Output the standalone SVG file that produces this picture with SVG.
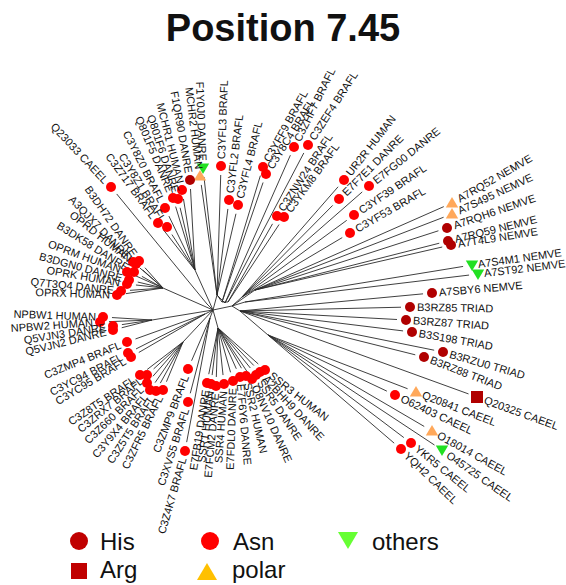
<svg xmlns="http://www.w3.org/2000/svg" xmlns:xlink="http://www.w3.org/1999/xlink" width="566" height="585" viewBox="0 0 566 585">
<style>
.l{stroke:#2a2a2a;stroke-width:0.9;fill:none}
.t{stroke-dasharray:0 9 2000}
text{font-family:"Liberation Sans",Arial,sans-serif;fill:#111}
.s{font-size:11px;text-anchor:start}
.e{font-size:11px;text-anchor:end}
.R{fill:#ff0000}
.D{fill:#b00000}
.P{fill:#ffa85a}
.G{fill:#22e022}
.lg{font-size:24px}
</style>
<defs>
<path id="tu" d="M0,-6 L6.2,4.5 L-6.2,4.5Z"/>
<path id="td" d="M-6.2,-4.5 L6.2,-4.5 L0,6Z"/>
<rect id="sq" x="-6" y="-6" width="12" height="12"/>
</defs>
<rect width="566" height="585" fill="#fff"/>
<text x="283" y="41" font-size="38" font-weight="bold" text-anchor="middle">Position 7.45</text>
<g id="connectors">
<path class="l" d="M213,310L232,306M232,306L255,290M232,306L242,297M213,310L195,270M213,310L217,295M213,310L163,288M213,310L152,320M213,310L183,342M213,310L218,328M232,306L240,311M240,311L268,335M232,306L245,302M213,310L207,304M213,310L205,314M213,310L210,318M217,295L222,302M217,295L225,303M222,302L228,302"/>
<g class="l t">
<line x1="452" y1="203" x2="255" y2="290"/>
<line x1="452" y1="214" x2="255" y2="290"/>
<line x1="447" y1="228" x2="255" y2="290"/>
<line x1="448" y1="241" x2="255" y2="290"/>
<line x1="451" y1="245" x2="255" y2="290"/>
<line x1="472" y1="265" x2="245" y2="302"/>
<line x1="478" y1="274" x2="245" y2="302"/>
<line x1="432" y1="293" x2="240" y2="311"/>
<line x1="410" y1="307" x2="240" y2="311"/>
<line x1="406" y1="320" x2="240" y2="311"/>
<line x1="412" y1="332" x2="240" y2="311"/>
<line x1="443" y1="352" x2="240" y2="311"/>
<line x1="424" y1="357" x2="240" y2="311"/>
<line x1="477" y1="397" x2="240" y2="311"/>
<line x1="416" y1="392" x2="268" y2="335"/>
<line x1="395" y1="395" x2="268" y2="335"/>
<line x1="432" y1="431" x2="268" y2="335"/>
<line x1="442" y1="450" x2="268" y2="335"/>
<line x1="411" y1="443" x2="268" y2="335"/>
<line x1="401" y1="449" x2="268" y2="335"/>
<line x1="344" y1="180" x2="242" y2="297"/>
<line x1="339" y1="199" x2="242" y2="297"/>
<line x1="369" y1="186" x2="242" y2="297"/>
<line x1="354" y1="215" x2="242" y2="297"/>
<line x1="350" y1="233" x2="242" y2="297"/>
<line x1="277" y1="216" x2="228" y2="302"/>
<line x1="284" y1="217" x2="228" y2="302"/>
<line x1="308" y1="145" x2="225" y2="303"/>
<line x1="294" y1="147" x2="225" y2="303"/>
<line x1="263" y1="167" x2="222" y2="302"/>
<line x1="266" y1="174" x2="222" y2="302"/>
<line x1="238" y1="205" x2="217" y2="295"/>
<line x1="229" y1="200" x2="217" y2="295"/>
<line x1="221" y1="166" x2="217" y2="295"/>
<line x1="203" y1="168" x2="217" y2="295"/>
<line x1="200" y1="176" x2="217" y2="295"/>
<line x1="190" y1="180" x2="195" y2="270"/>
<line x1="182" y1="190" x2="195" y2="270"/>
<line x1="178" y1="199" x2="195" y2="270"/>
<line x1="173" y1="198" x2="195" y2="270"/>
<line x1="165" y1="208" x2="195" y2="270"/>
<line x1="167" y1="227" x2="195" y2="270"/>
<line x1="158" y1="223" x2="195" y2="270"/>
<line x1="111" y1="187" x2="207" y2="304"/>
<line x1="139" y1="261" x2="163" y2="288"/>
<line x1="133" y1="262" x2="163" y2="288"/>
<line x1="136" y1="264" x2="163" y2="288"/>
<line x1="134" y1="272" x2="163" y2="288"/>
<line x1="127" y1="272" x2="163" y2="288"/>
<line x1="129" y1="280" x2="163" y2="288"/>
<line x1="127" y1="284" x2="163" y2="288"/>
<line x1="121" y1="291" x2="163" y2="288"/>
<line x1="117" y1="295" x2="163" y2="288"/>
<line x1="103" y1="317" x2="152" y2="320"/>
<line x1="100" y1="322" x2="152" y2="320"/>
<line x1="113" y1="326" x2="152" y2="320"/>
<line x1="113" y1="330" x2="152" y2="320"/>
<line x1="127" y1="342" x2="205" y2="314"/>
<line x1="128" y1="353" x2="205" y2="314"/>
<line x1="131" y1="357" x2="205" y2="314"/>
<line x1="140" y1="375" x2="183" y2="342"/>
<line x1="147" y1="375" x2="183" y2="342"/>
<line x1="147" y1="383" x2="183" y2="342"/>
<line x1="150" y1="390" x2="183" y2="342"/>
<line x1="156" y1="391" x2="183" y2="342"/>
<line x1="163" y1="390" x2="183" y2="342"/>
<line x1="188" y1="369" x2="210" y2="318"/>
<line x1="188" y1="402" x2="210" y2="318"/>
<line x1="185" y1="451" x2="210" y2="318"/>
<line x1="207" y1="383" x2="218" y2="328"/>
<line x1="211" y1="384" x2="218" y2="328"/>
<line x1="216" y1="386" x2="218" y2="328"/>
<line x1="224" y1="384" x2="218" y2="328"/>
<line x1="233" y1="381" x2="218" y2="328"/>
<line x1="240" y1="377" x2="218" y2="328"/>
<line x1="246" y1="376" x2="218" y2="328"/>
<line x1="252" y1="379" x2="218" y2="328"/>
<line x1="256" y1="375" x2="218" y2="328"/>
<line x1="260" y1="372" x2="218" y2="328"/>
<line x1="265" y1="370" x2="218" y2="328"/>
</g>
</g>
<g id="A7RQ52"><use href="#tu" x="452" y="203" class="P"/><text class="s" transform="translate(452,203) rotate(-30)" x="7" dy="0.35em">A7RQ52 NEMVE</text></g>
<g id="A7S495"><use href="#tu" x="452" y="214" class="P"/><text class="s" transform="translate(452,214) rotate(-25)" x="7" dy="0.35em">A7S495 NEMVE</text></g>
<g id="A7RQH6"><circle cx="447" cy="228" r="5" class="D"/><text class="s" transform="translate(447,228) rotate(-19)" x="7" dy="0.35em">A7RQH6 NEMVE</text></g>
<g id="A7RQ59"><circle cx="448" cy="241" r="5" class="D"/><text class="s" transform="translate(448,241) rotate(-14)" x="7" dy="0.35em">A7RQ59 NEMVE</text></g>
<g id="A7T4L9"><circle cx="451" cy="245" r="5" class="D"/><text class="s" transform="translate(451,245) rotate(-9)" x="7" dy="0.35em">A7T4L9 NEMVE</text></g>
<g id="A7S4M1"><use href="#td" x="472" y="265" class="G"/><text class="s" transform="translate(472,265) rotate(-8)" x="6" dy="0.35em">A7S4M1 NEMVE</text></g>
<g id="A7ST92"><use href="#td" x="478" y="274" class="G"/><text class="s" transform="translate(478,274) rotate(-7)" x="6" dy="0.35em">A7ST92 NEMVE</text></g>
<g id="A7SBY6"><circle cx="432" cy="293" r="5" class="D"/><text class="s" transform="translate(432,293) rotate(-5)" x="7" dy="0.35em">A7SBY6 NEMVE</text></g>
<g id="B3RZ85"><circle cx="410" cy="307" r="5" class="D"/><text class="s" transform="translate(410,307) rotate(1)" x="7" dy="0.35em">B3RZ85 TRIAD</text></g>
<g id="B3RZ87"><circle cx="406" cy="320" r="5" class="D"/><text class="s" transform="translate(406,320) rotate(4)" x="7" dy="0.35em">B3RZ87 TRIAD</text></g>
<g id="B3S198"><circle cx="412" cy="332" r="5" class="D"/><text class="s" transform="translate(412,332) rotate(10)" x="7" dy="0.35em">B3S198 TRIAD</text></g>
<g id="B3RZU0"><circle cx="443" cy="352" r="5" class="D"/><text class="s" transform="translate(443,352) rotate(16)" x="7" dy="0.35em">B3RZU0 TRIAD</text></g>
<g id="B3RZ88"><circle cx="424" cy="357" r="5" class="D"/><text class="s" transform="translate(424,357) rotate(21)" x="7" dy="0.35em">B3RZ88 TRIAD</text></g>
<g id="Q20325"><use href="#sq" x="477" y="397" class="D"/><text class="s" transform="translate(477,397) rotate(20)" x="8" dy="0.35em">Q20325 CAEEL</text></g>
<g id="Q20841"><use href="#tu" x="416" y="392" class="P"/><text class="s" transform="translate(416,392) rotate(21)" x="7" dy="0.35em">Q20841 CAEEL</text></g>
<g id="O62403"><circle cx="395" cy="395" r="5" class="R"/><text class="s" transform="translate(395,395) rotate(25)" x="7" dy="0.35em">O62403 CAEEL</text></g>
<g id="O18014"><use href="#tu" x="432" y="431" class="P"/><text class="s" transform="translate(432,431) rotate(29)" x="7" dy="0.35em">O18014 CAEEL</text></g>
<g id="O45725"><use href="#td" x="442" y="450" class="G"/><text class="s" transform="translate(442,450) rotate(35)" x="7" dy="0.35em">O45725 CAEEL</text></g>
<g id="YKR5"><circle cx="411" cy="443" r="5" class="R"/><text class="s" transform="translate(411,443) rotate(39)" x="7" dy="0.35em">YKR5 CAEEL</text></g>
<g id="YQH2"><circle cx="401" cy="449" r="5" class="R"/><text class="s" transform="translate(401,449) rotate(44)" x="7" dy="0.35em">YQH2 CAEEL</text></g>
<g id="UR2R"><circle cx="344" cy="180" r="5" class="R"/><text class="s" transform="translate(344,180) rotate(-52)" x="7" dy="0.35em">UR2R HUMAN</text></g>
<g id="E7F7E1"><circle cx="339" cy="199" r="5" class="R"/><text class="s" transform="translate(339,199) rotate(-45)" x="7" dy="0.35em">E7F7E1 DANRE</text></g>
<g id="E7FG00"><circle cx="369" cy="186" r="5" class="R"/><text class="s" transform="translate(369,186) rotate(-39)" x="7" dy="0.35em">E7FG00 DANRE</text></g>
<g id="C3YF39"><circle cx="354" cy="215" r="5" class="R"/><text class="s" transform="translate(354,215) rotate(-34)" x="7" dy="0.35em">C3YF39 BRAFL</text></g>
<g id="C3YF53"><circle cx="350" cy="233" r="5" class="R"/><text class="s" transform="translate(350,233) rotate(-30)" x="7" dy="0.35em">C3YF53 BRAFL</text></g>
<g id="C3ZNW24"><circle cx="277" cy="216" r="5" class="R"/><text class="s" transform="translate(277,216) rotate(-57)" x="7" dy="0.35em">C3ZNW24 BRAFL</text></g>
<g id="C3YKM8"><circle cx="284" cy="217" r="5" class="R"/><text class="s" transform="translate(284,217) rotate(-54)" x="7" dy="0.35em">C3YKM8 BRAFL</text></g>
<g id="C3ZEF4"><circle cx="308" cy="145" r="5" class="R"/><text class="s" transform="translate(308,145) rotate(-57)" x="7" dy="0.35em">C3ZEF4 BRAFL</text></g>
<g id="C3ZHF7"><circle cx="294" cy="147" r="5" class="R"/><text class="s" transform="translate(294,147) rotate(-64)" x="7" dy="0.35em">C3ZHF7 BRAFL</text></g>
<g id="C3YFF9"><circle cx="263" cy="167" r="5" class="R"/><text class="s" transform="translate(263,167) rotate(-61)" x="7" dy="0.35em">C3YFF9 BRAFL</text></g>
<g id="C3Y8C4"><circle cx="266" cy="174" r="5" class="R"/><text class="s" transform="translate(266,174) rotate(-58)" x="7" dy="0.35em">C3Y8C4 BRAFL</text></g>
<g id="C3YFL4"><circle cx="238" cy="205" r="5" class="R"/><text class="s" transform="translate(238,205) rotate(-76)" x="7" dy="0.35em">C3YFL4 BRAFL</text></g>
<g id="C3YFL2"><circle cx="229" cy="200" r="5" class="R"/><text class="s" transform="translate(229,200) rotate(-83)" x="7" dy="0.35em">C3YFL2 BRAFL</text></g>
<g id="C3YFL3"><circle cx="221" cy="166" r="5" class="R"/><text class="s" transform="translate(221,166) rotate(-88)" x="7" dy="0.35em">C3YFL3 BRAFL</text></g>
<g id="F1Y0J0"><use href="#td" x="203" y="168" class="G"/><text class="e" transform="translate(203,168) rotate(88)" x="-7" dy="0.35em">F1Y0J0 DANRE</text></g>
<g id="MCHR2"><use href="#tu" x="200" y="176" class="P"/><text class="e" transform="translate(200,176) rotate(83)" x="-7" dy="0.35em">MCHR2 HUMAN</text></g>
<g id="F1QR90"><circle cx="190" cy="180" r="5" class="D"/><text class="e" transform="translate(190,180) rotate(80)" x="-7" dy="0.35em">F1QR90 DANRE</text></g>
<g id="MCHR1"><circle cx="182" cy="190" r="5" class="R"/><text class="e" transform="translate(182,190) rotate(76)" x="-7" dy="0.35em">MCHR1 HUMAN</text></g>
<g id="Q801F6"><circle cx="178" cy="199" r="5" class="R"/><text class="e" transform="translate(178,199) rotate(72)" x="-7" dy="0.35em">Q801F6 DANRE</text></g>
<g id="Q801F5"><circle cx="173" cy="198" r="5" class="R"/><text class="e" transform="translate(173,198) rotate(67)" x="-7" dy="0.35em">Q801F5 DANRE</text></g>
<g id="C3Y8Z0"><circle cx="165" cy="208" r="5" class="R"/><text class="e" transform="translate(165,208) rotate(63)" x="-7" dy="0.35em">C3Y8Z0 BRAFL</text></g>
<g id="C3Y8Z1"><circle cx="167" cy="227" r="5" class="R"/><text class="e" transform="translate(167,227) rotate(58)" x="-7" dy="0.35em">C3Y8Z1 BRAFL</text></g>
<g id="C3Z717"><circle cx="158" cy="223" r="5" class="R"/><text class="e" transform="translate(158,223) rotate(54)" x="-7" dy="0.35em">C3Z717 BRAFL</text></g>
<g id="Q23033"><circle cx="111" cy="187" r="5" class="R"/><text class="e" transform="translate(111,187) rotate(47)" x="-7" dy="0.35em">Q23033 CAEEL</text></g>
<g id="B3DH72"><circle cx="139" cy="261" r="5" class="R"/><text class="e" transform="translate(139,261) rotate(55)" x="-7" dy="0.35em">B3DH72 DANRE</text></g>
<g id="A3QJX7"><circle cx="133" cy="262" r="5" class="R"/><text class="e" transform="translate(133,262) rotate(46)" x="-7" dy="0.35em">A3QJX7 DANRE</text></g>
<g id="OPRD"><circle cx="136" cy="264" r="5" class="R"/><text class="e" transform="translate(136,264) rotate(38)" x="-7" dy="0.35em">OPRD HUMAN</text></g>
<g id="B3DK58"><circle cx="134" cy="272" r="5" class="R"/><text class="e" transform="translate(134,272) rotate(32)" x="-7" dy="0.35em">B3DK58 DANRE</text></g>
<g id="OPRM"><circle cx="127" cy="272" r="5" class="R"/><text class="e" transform="translate(127,272) rotate(20)" x="-7" dy="0.35em">OPRM HUMAN</text></g>
<g id="B3DGN0"><circle cx="129" cy="280" r="5" class="R"/><text class="e" transform="translate(129,280) rotate(15)" x="-7" dy="0.35em">B3DGN0 DANRE</text></g>
<g id="OPRK"><circle cx="127" cy="284" r="5" class="R"/><text class="e" transform="translate(127,284) rotate(10)" x="-7" dy="0.35em">OPRK HUMAN</text></g>
<g id="Q7T3Q4"><circle cx="121" cy="291" r="5" class="R"/><text class="e" transform="translate(121,291) rotate(6)" x="-7" dy="0.35em">Q7T3Q4 DANRE</text></g>
<g id="OPRX"><circle cx="117" cy="295" r="5" class="R"/><text class="e" transform="translate(117,295) rotate(2)" x="-7" dy="0.35em">OPRX HUMAN</text></g>
<g id="NPBW1"><circle cx="103" cy="317" r="5" class="R"/><text class="e" transform="translate(103,317) rotate(2)" x="-7" dy="0.35em">NPBW1 HUMAN</text></g>
<g id="NPBW2"><circle cx="100" cy="322" r="5" class="R"/><text class="e" transform="translate(100,322) rotate(-4)" x="-7" dy="0.35em">NPBW2 HUMAN</text></g>
<g id="Q5VJN3"><circle cx="113" cy="326" r="5" class="R"/><text class="e" transform="translate(113,326) rotate(-9)" x="-7" dy="0.35em">Q5VJN3 DANRE</text></g>
<g id="Q5VJN2"><circle cx="113" cy="330" r="5" class="R"/><text class="e" transform="translate(113,330) rotate(-14)" x="-7" dy="0.35em">Q5VJN2 DANRE</text></g>
<g id="C3ZMP4"><circle cx="127" cy="342" r="5" class="R"/><text class="e" transform="translate(127,342) rotate(-22)" x="-7" dy="0.35em">C3ZMP4 BRAFL</text></g>
<g id="C3YC94"><circle cx="128" cy="353" r="5" class="R"/><text class="e" transform="translate(128,353) rotate(-27)" x="-7" dy="0.35em">C3YC94 BRAFL</text></g>
<g id="C3YC95"><circle cx="131" cy="357" r="5" class="R"/><text class="e" transform="translate(131,357) rotate(-31)" x="-7" dy="0.35em">C3YC95 BRAFL</text></g>
<g id="C3Z8T5"><circle cx="140" cy="375" r="5" class="R"/><text class="e" transform="translate(140,375) rotate(-34)" x="-7" dy="0.35em">C3Z8T5 BRAFL</text></g>
<g id="C3ZRX7"><circle cx="147" cy="375" r="5" class="R"/><text class="e" transform="translate(147,375) rotate(-39)" x="-7" dy="0.35em">C3ZRX7 BRAFL</text></g>
<g id="C3Z660"><circle cx="147" cy="383" r="5" class="R"/><text class="e" transform="translate(147,383) rotate(-44)" x="-7" dy="0.35em">C3Z660 BRAFL</text></g>
<g id="C3Y9X4"><circle cx="150" cy="390" r="5" class="R"/><text class="e" transform="translate(150,390) rotate(-50)" x="-7" dy="0.35em">C3Y9X4 BRAFL</text></g>
<g id="C3Z5T5"><circle cx="156" cy="391" r="5" class="R"/><text class="e" transform="translate(156,391) rotate(-57)" x="-7" dy="0.35em">C3Z5T5 BRAFL</text></g>
<g id="C3ZFR5"><circle cx="163" cy="390" r="5" class="R"/><text class="e" transform="translate(163,390) rotate(-64)" x="-7" dy="0.35em">C3ZFR5 BRAFL</text></g>
<g id="C3ZMP9"><circle cx="188" cy="369" r="5" class="R"/><text class="e" transform="translate(188,369) rotate(-69)" x="-7" dy="0.35em">C3ZMP9 BRAFL</text></g>
<g id="C3XVS5"><circle cx="188" cy="402" r="5" class="R"/><text class="e" transform="translate(188,402) rotate(-72)" x="-7" dy="0.35em">C3XVS5 BRAFL</text></g>
<g id="C3Z4K7"><circle cx="185" cy="451" r="5" class="R"/><text class="e" transform="translate(185,451) rotate(-74)" x="-7" dy="0.35em">C3Z4K7 BRAFL</text></g>
<g id="E7FB19"><circle cx="207" cy="383" r="5" class="R"/><text class="e" transform="translate(207,383) rotate(-81)" x="-7" dy="0.35em">E7FB19 DANRE</text></g>
<g id="SSR1"><circle cx="211" cy="384" r="5" class="R"/><text class="e" transform="translate(211,384) rotate(-83)" x="-7" dy="0.35em">SSR1 HUMAN</text></g>
<g id="E7FCM2"><circle cx="216" cy="386" r="5" class="R"/><text class="e" transform="translate(216,386) rotate(-85)" x="-7" dy="0.35em">E7FCM2 DANRE</text></g>
<g id="SSR4"><circle cx="224" cy="384" r="5" class="R"/><text class="e" transform="translate(224,384) rotate(-86)" x="-7" dy="0.35em">SSR4 HUMAN</text></g>
<g id="E7FDL0"><circle cx="233" cy="381" r="5" class="R"/><text class="e" transform="translate(233,381) rotate(-88)" x="-7" dy="0.35em">E7FDL0 DANRE</text></g>
<g id="E7F6Y6"><circle cx="240" cy="377" r="5" class="R"/><text class="s" transform="translate(240,377) rotate(85)" x="7" dy="0.35em">E7F6Y6 DANRE</text></g>
<g id="SSR2"><circle cx="246" cy="376" r="5" class="R"/><text class="s" transform="translate(246,376) rotate(77)" x="7" dy="0.35em">SSR2 HUMAN</text></g>
<g id="O8NV10"><circle cx="252" cy="379" r="5" class="R"/><text class="s" transform="translate(252,379) rotate(66)" x="7" dy="0.35em">O8NV10 DANRE</text></g>
<g id="SSR5"><circle cx="256" cy="375" r="5" class="R"/><text class="s" transform="translate(256,375) rotate(56)" x="7" dy="0.35em">SSR5 DANRE</text></g>
<g id="A2BHH9"><circle cx="260" cy="372" r="5" class="R"/><text class="s" transform="translate(260,372) rotate(47)" x="7" dy="0.35em">A2BHH9 DANRE</text></g>
<g id="SSR3"><circle cx="265" cy="370" r="5" class="R"/><text class="s" transform="translate(265,370) rotate(38)" x="7" dy="0.35em">SSR3 HUMAN</text></g>
<g id="legend">
<circle cx="79" cy="541" r="9" fill="#c00000"/><text class="lg" x="100" y="550">His</text>
<circle cx="210" cy="541" r="9" fill="#ff0000"/><text class="lg" x="233" y="550">Asn</text>
<path d="M338,532 L358,532 L348,549Z" fill="#66ff33"/><text class="lg" x="372" y="550">others</text>
<rect x="71" y="563" width="16" height="16" fill="#c00000"/><text class="lg" x="100" y="578">Arg</text>
<path d="M197,580 L217,580 L207,563Z" fill="#ffc000"/><text class="lg" x="232" y="578">polar</text>
</g>
</svg>
